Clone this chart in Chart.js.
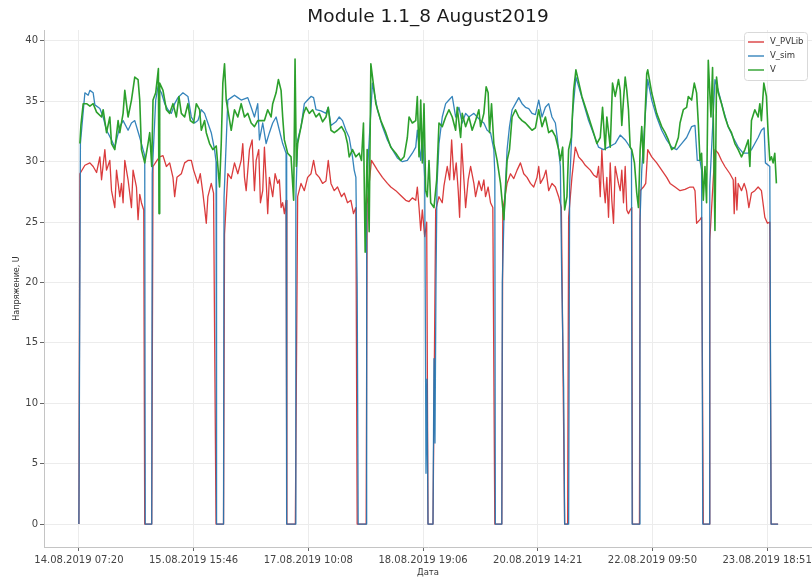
<!DOCTYPE html>
<html>
<head>
<meta charset="utf-8">
<script src="https://cdn.jsdelivr.net/npm/chart.js@4"></script>
<style>
  html, body { margin: 0; padding: 0; background: #ffffff; }
  #wrap { width: 812px; height: 578px; }
</style>
</head>
<body>
<div id="wrap"><canvas id="c" width="812" height="578"></canvas></div>
<script>
// Title and axis texts
const chartTitle = 'Module 1.1_8 August2019';
const xTitle = 'Дата';
const yTitle = 'Напряжение, U';

// Sample-index positions of the date ticks and their labels
const tickIndex = [0, 115, 230, 345, 460, 575, 690];
const tickLabels = ['14.08.2019 07:20', '15.08.2019 15:46', '17.08.2019 10:08',
  '18.08.2019 19:06', '20.08.2019 14:21', '22.08.2019 09:50', '23.08.2019 18:51'];
const yTicks = [0, 5, 10, 15, 20, 25, 30, 35, 40];

const seriesNames = ['V_PVLib', 'V_sim', 'V'];

// V_PVLib: [sample index, voltage]
const vPvlib = [
  [0,0],[1,29.0],[6,29.7],[11,29.9],[14.3,29.6],[17.7,29.1],[21,30.4],[22.7,28.5],[26,31.0],[27.7,29.3],[31,30.1],[32.7,27.6],[36,26.2],[37.7,29.3],[41,27.1],[42.7,28.2],[44.3,26.6],[46,30.1],[49.3,28.5],[52.7,26.2],[54.3,29.3],[57.7,27.9],[59.3,25.2],[61,27.3],[62.7,26.6],[65,26.0],[66,0],[73,0],
  [74.3,29.6],[78.3,30.1],[81,30.4],[84.3,30.5],[87.7,29.6],[91,29.9],[94.3,28.7],[96,27.1],[98.3,28.7],[102.7,29.0],[106,29.9],[109.3,30.1],[112.7,30.1],[115,29.3],[119.3,28.2],[121.7,29.0],[124.3,27.4],[126,26.2],[127.7,24.9],[129.3,27.1],[132.7,28.2],[135,27.4],[137.5,0],[145,0],
  [146,24.0],[149.3,29.0],[152.7,28.6],[156,29.9],[159.3,29.0],[162.7,30.1],[164.3,31.5],[166,28.7],[167.7,27.6],[171,31.0],[173.7,31.8],[176,27.6],[177.7,30.1],[180.3,31.0],[182,26.6],[184.3,27.6],[186,31.2],[187.7,28.5],[189.3,25.7],[191,28.7],[194.3,27.1],[196.7,29.0],[199.3,28.2],[201,28.5],[202.7,26.2],[204.3,26.6],[206,25.7],[207.7,26.8],[208.5,0],[217,0],
  [219.3,27.1],[222.7,28.2],[226,27.6],[229.3,28.7],[232.7,29.0],[235.3,30.1],[237.7,29.0],[241,28.7],[244.3,28.2],[247.7,28.4],[250,30.1],[252.7,28.2],[256,27.6],[259.3,27.9],[263.3,27.1],[266,27.4],[269.3,26.6],[272.7,26.8],[275.3,25.7],[277.7,26.2],[279,0],[288,0],
  [289,26.5],[293.3,30.1],[299.3,29.3],[304.3,28.7],[309.3,28.2],[312.7,27.9],[317.7,27.6],[322.7,27.2],[327.7,26.8],[331,26.7],[334.3,27.0],[337.7,26.8],[339.3,27.9],[341,26.2],[342.7,24.3],[344.3,26.0],[346.7,23.8],[348.7,25.0],[350,0],[355,0],
  [357.7,26.0],[361,27.1],[364.3,26.6],[366,28.0],[369.3,29.6],[371.7,28.5],[373.7,31.8],[376,28.5],[378.3,29.9],[380.3,27.6],[381.7,25.4],[383.7,31.5],[386,28.5],[387.7,26.2],[390.3,28.5],[392.7,29.6],[396,28.2],[397.7,27.1],[401,28.4],[403.7,27.6],[406,28.5],[407.7,27.1],[410.3,27.9],[412.7,26.6],[415,26.2],[417,0],[424,0],
  [425,26.0],[429.3,28.2],[432.7,29.0],[436,28.6],[439.3,29.3],[442.7,29.9],[446,29.0],[449.3,28.7],[452.7,28.2],[456,27.9],[459.3,28.7],[461,29.6],[462.7,28.2],[466,28.7],[468.3,29.3],[471,27.6],[474.3,28.2],[477.7,27.9],[481,27.1],[483.7,26.2],[487,0],[490,0],
  [491,25.4],[494.3,28.7],[497.7,31.2],[501,30.4],[504.3,30.1],[507.7,29.7],[512.7,29.3],[516,28.9],[519.3,28.7],[521,29.6],[522.7,27.1],[524.3,31.0],[526,28.2],[527.7,26.6],[529.3,28.7],[531,25.4],[532.7,29.9],[534.3,26.8],[536,24.9],[537.7,29.6],[541,28.2],[542.7,27.6],[544.3,29.3],[546,26.6],[547.7,29.6],[549.3,26.0],[551,25.7],[552.7,26.0],[554.3,26.2],[555,0],[562,0],
  [562.7,27.6],[566,27.9],[568.3,28.2],[570.3,31.0],[574.3,30.4],[579.3,29.9],[584.3,29.3],[589.3,28.7],[592.7,28.2],[597.7,27.9],[602.7,27.6],[607.7,27.7],[612.7,27.9],[616,27.9],[617.7,27.6],[619.3,24.9],[622.7,25.2],[624.3,25.4],[626,0],[632,0],
  [632.5,23.5],[637.7,31.0],[641,30.7],[644.3,30.1],[647.7,29.6],[652.7,29.0],[656,28.5],[657,25.7],[658.3,28.7],[659.7,26.0],[661,28.2],[662.7,27.9],[664.3,27.6],[667,28.2],[669.3,27.6],[671.7,26.2],[674.3,27.4],[677.7,27.6],[681,27.9],[684.3,27.6],[687.7,25.4],[690.3,24.9],[692.7,25.0],[694,0],[701,0]
];

// V_sim: [sample index, voltage]
const vSim = [
  [0,0],[1.5,31.5],[6,35.7],[9.3,35.5],[11,35.9],[14.3,35.7],[16,34.7],[21,34.4],[24.3,33.7],[27.7,32.6],[32.7,31.8],[36,31.2],[41,32.9],[44.3,33.4],[49.3,32.6],[52.7,33.2],[56,33.4],[61,32.0],[64.3,31.0],[66,30.5],[66.5,0],[73,0],
  [73.5,29.0],[77,35.1],[79.3,36.2],[82.7,35.7],[86,34.8],[89.3,34.3],[92.7,34.0],[96,34.8],[99.3,35.3],[104.3,35.7],[109.3,35.4],[112.7,33.7],[116,33.2],[119.3,33.4],[122.7,34.3],[126,34.0],[129.3,33.2],[132.7,32.4],[136,31.0],[137.5,30.0],[138,0],[145,0],
  [145.5,27.0],[149.3,35.1],[152.7,35.3],[156,35.5],[159.3,35.3],[162.7,35.1],[166,35.2],[169.3,35.3],[172.7,34.5],[176,33.7],[179.3,34.8],[181,31.8],[184.3,33.2],[187.7,31.5],[191,32.4],[194.3,33.2],[197.7,33.7],[201,32.6],[204.3,31.5],[207.7,30.7],[208.3,0],[217,0],
  [217.5,27.0],[219.3,31.8],[222.7,32.9],[226,34.8],[229.3,35.1],[232.7,35.4],[235.3,35.3],[237.7,34.3],[242.7,34.2],[247.7,34.0],[250,34.5],[252.7,33.0],[257.7,33.3],[261,33.7],[264.3,33.4],[267.7,32.6],[271,32.0],[274.3,30.4],[276,29.3],[277.7,28.7],[279,19.6],[280,0],[288,0],
  [288.5,28.0],[294.3,36.5],[299.3,34.3],[304.3,32.9],[309.3,31.8],[314.3,31.0],[319.3,30.3],[324.3,30.0],[329.3,30.1],[334.3,30.7],[337.7,31.2],[339.3,32.6],[342.7,30.1],[344.3,32.4],[346.7,28.7],[347.5,14.0],[348,4.2],[349,12.0],[350,0],[355,0],[356,13.7],[357,6.7],[358,20.0],[359,28.0],
  [361,31.5],[364.3,33.7],[367.7,34.8],[371,35.1],[374.3,35.4],[377.7,33.7],[381,34.5],[384.3,33.2],[387.7,34.0],[391,33.7],[396,34.0],[399.3,33.7],[402.7,33.4],[406,33.2],[409.3,32.6],[412.7,32.4],[416,31.0],[417,29.0],[417.5,0],[424,0],
  [424.5,20.0],[426,24.9],[427.7,28.2],[429.3,31.0],[431.7,32.9],[434.3,34.3],[437.7,34.8],[441,35.3],[444.3,34.8],[447.7,34.5],[451,34.4],[454.3,34.0],[457.7,33.9],[461,35.1],[464.3,33.7],[467.7,34.5],[471,34.8],[474.3,33.7],[477.7,33.2],[480.3,31.5],[482.7,29.6],[484,20.8],[486,11.3],[487,0],[491,0],
  [492,28.0],[495,34.0],[498.3,37.0],[504.3,35.3],[511,33.4],[516,32.3],[521,31.2],[526,31.0],[531,31.2],[537.7,31.5],[542.7,32.2],[547.7,31.8],[551,31.4],[554,31.0],[554.7,0],[562,0],
  [562.5,25.0],[564.3,29.3],[567.7,33.7],[570.3,36.8],[574.3,35.1],[579.3,33.7],[584.3,32.6],[589.3,31.8],[594.3,31.2],[599.3,31.0],[604.3,31.5],[609.3,32.0],[614.3,32.9],[617.7,33.0],[620,30.1],[622.7,30.1],[624.3,29.3],[625.5,0],[632,0],
  [632.5,28.0],[637.7,36.8],[641,35.9],[646,34.3],[651,32.9],[656,32.0],[661,31.2],[666,30.7],[671,30.7],[674.3,31.0],[677.7,31.5],[681,32.0],[684.3,32.6],[687,32.8],[688.3,29.9],[692.7,29.6],[694,0],[701,0]
];

// V (measured): [sample index, voltage]; no samples at night
const vMeas = [
  [1,31.5],[2,33.0],[4.3,34.8],[7.7,34.8],[11,34.6],[14.3,34.8],[17.7,34.1],[22.7,33.7],[24.3,34.3],[27.7,32.4],[31,33.7],[32.7,31.5],[36,31.0],[39.3,33.4],[41,32.4],[44.3,34.0],[46,35.9],[49.3,33.7],[52.7,35.1],[56,37.0],[59.3,36.8],[61,35.1],[62.7,31.0],[66,29.9],[69.3,31.5],[71,32.4],[73,29.6],
  [74.3,35.1],[77,35.7],[79.7,37.7],[80.3,25.7],[81,36.5],[84.3,35.9],[87.7,34.3],[91,34.0],[94.3,34.8],[97.7,33.7],[100.3,35.4],[102.7,34.0],[106,33.7],[109.3,34.8],[111.7,33.4],[115,33.2],[117.7,34.8],[121,34.3],[122.7,32.6],[126,33.4],[127.7,32.4],[131,31.5],[134.3,31.0],[137.7,31.3],[141,27.9],[142.7,31.5],[144.3,36.5],[146,38.1],
  [147.7,35.1],[149.3,34.3],[152.7,32.6],[156,34.3],[159.3,33.7],[162.7,34.8],[166,33.7],[169.3,34.0],[172.7,33.2],[176,32.9],[179.3,33.4],[186,33.4],[189.3,34.3],[192.7,33.7],[194.3,34.8],[197.7,35.7],[200,36.8],[202.7,35.9],[204.3,33.7],[206,31.8],[209.3,30.7],[212.7,30.4],[215.3,26.8],[216.7,38.5],[218,29.6],
  [219.3,31.5],[222.7,32.9],[225.3,34.0],[227.7,34.5],[231,34.0],[234.3,34.3],[237.7,33.7],[241,34.0],[244.3,33.3],[247.7,33.7],[250,34.5],[252.7,32.6],[256,32.4],[259.3,32.6],[263.3,32.9],[266.7,32.4],[269.3,31.5],[271,30.4],[274.3,31.0],[277.7,30.4],[281,30.7],[283.3,30.1],[285.3,33.2],[287,22.5],[289,31.0],[291,24.2],[292.7,38.1],
  [297.7,34.8],[302.7,33.4],[307.7,32.4],[312.7,31.2],[317.7,30.7],[322.7,30.1],[326,30.4],[329.3,32.0],[331,33.7],[334.3,33.2],[337.7,33.4],[339.3,35.4],[341,30.4],[342.7,35.1],[344.3,29.9],[346,34.8],[347.7,27.6],[349.3,27.1],[351,30.1],[352.7,26.6],[356,26.2],[358.7,28.5],[361,33.2],
  [364.3,32.9],[367.7,33.7],[371,34.3],[374.3,33.7],[377.7,32.6],[379.3,34.5],[382.7,32.0],[384.3,34.0],[387.7,32.9],[391,33.7],[394.3,32.6],[397.7,33.4],[401,34.3],[402.7,32.9],[406,34.0],[408.3,36.2],[410.3,35.7],[411.7,32.4],[413.7,34.8],[416,31.5],[419.3,30.1],[422.7,28.2],[426,25.2],[427.7,27.6],[429.3,30.1],[431.7,31.0],
  [434.3,33.7],[437.7,34.3],[441,33.7],[444.3,33.4],[447.7,33.2],[451,32.9],[454.3,32.6],[457.7,32.8],[461,34.3],[464.3,32.9],[467.7,33.7],[471,32.4],[474.3,32.6],[477.7,32.1],[481,31.0],[482.7,30.1],[485,31.2],[487,26.0],[489.3,27.1],[491,31.0],[493.7,32.0],[496,35.9],[498.3,37.6],
  [504.3,35.4],[511,33.7],[516,32.4],[519.3,31.5],[522.7,32.0],[525,34.5],[527.7,31.0],[529.3,33.7],[532.7,31.2],[535,36.5],[537.7,35.4],[541,36.8],[542.7,35.9],[544.3,33.0],[546,35.1],[547.7,37.0],[549.3,35.9],[551,34.3],[552.7,31.2],[554.3,31.0],[557,29.9],[559.3,27.4],[561,26.2],[562.7,31.0],[564.3,32.9],[566,29.9],[567.7,34.0],[569.3,37.3],
  [570.3,37.6],[574.3,35.7],[579.3,34.0],[584.3,32.9],[587.7,32.4],[591,31.8],[594.3,31.0],[597.7,31.2],[601,32.0],[602.7,33.2],[606,34.3],[609.3,34.5],[611,35.4],[614.3,35.1],[617,36.5],[619.3,35.7],[621,33.2],[622.7,30.1],[624.3,30.7],[626,26.8],[627.7,29.6],[629.3,26.6],[631,38.4],[633.7,33.7],[635.3,37.8],[637.7,24.3],[639.3,37.0],
  [641,35.7],[644.3,34.8],[647.7,33.7],[651,32.9],[654.3,32.4],[657.7,31.5],[661,31.0],[664.3,30.4],[667.7,31.0],[671,31.8],[672.7,29.6],[674.3,33.4],[677.7,34.3],[681,33.7],[682.7,34.8],[684.3,33.4],[686.7,36.5],[689.3,35.4],[691,32.4],[692.7,30.1],[694.3,30.4],[696,29.9],[697.7,30.7],[699.3,28.2]
];

const seriesColors = ['rgba(214,39,40,0.9)', 'rgba(31,119,180,0.9)', 'rgb(44,160,44)'];
const seriesWidths = [1.3, 1.3, 1.6];
const FONT = 'DejaVu Sans';

const toPoints = arr => arr.map(([x, y]) => ({ x, y }));

// Title centred over the plot area, and a boxed legend in the upper right corner
const decorations = {
  id: 'decorations',
  afterDraw(chart) {
    const { ctx, chartArea } = chart;
    ctx.save();
    ctx.fillStyle = '#1a1a1a';
    ctx.font = `18.5px "${FONT}"`;
    ctx.textAlign = 'center';
    ctx.textBaseline = 'middle';
    ctx.fillText(chartTitle, (chartArea.left + chartArea.right) / 2, 17);

    const bx = 744, by = 32, bw = 63, bh = 48;
    ctx.beginPath();
    ctx.roundRect(bx + 0.5, by + 0.5, bw, bh, 3);
    ctx.fillStyle = 'rgba(255,255,255,0.85)';
    ctx.fill();
    ctx.strokeStyle = '#d9d9d9';
    ctx.lineWidth = 1;
    ctx.stroke();
    ctx.font = `8.5px "${FONT}"`;
    ctx.textAlign = 'left';
    chart.data.datasets.forEach((ds, i) => {
      const y = by + 10 + i * 14;
      ctx.beginPath();
      ctx.moveTo(bx + 4, y);
      ctx.lineTo(bx + 20, y);
      ctx.strokeStyle = ds.borderColor;
      ctx.lineWidth = 1.4;
      ctx.stroke();
      ctx.fillStyle = '#333';
      ctx.fillText(ds.label, bx + 26, y);
    });
    ctx.restore();
  }
};

const lineStyle = { pointRadius: 0, pointHoverRadius: 0, tension: 0, fill: false, borderJoinStyle: 'round' };

new Chart(document.getElementById('c'), {
  type: 'line',
  data: {
    datasets: [
      { ...lineStyle, label: seriesNames[0], data: toPoints(vPvlib), borderColor: seriesColors[0], borderWidth: seriesWidths[0], order: 2 },
      { ...lineStyle, label: seriesNames[1], data: toPoints(vSim), borderColor: seriesColors[1], borderWidth: seriesWidths[1], order: 1 },
      { ...lineStyle, label: seriesNames[2], data: toPoints(vMeas), borderColor: seriesColors[2], borderWidth: seriesWidths[2], order: 0 }
    ]
  },
  options: {
    responsive: false,
    animation: false,
    devicePixelRatio: 1,
    layout: { padding: { top: 30, left: 0, right: 0, bottom: 0 } },
    plugins: { legend: { display: false }, tooltip: { enabled: false }, title: { display: false } },
    scales: {
      x: {
        type: 'linear',
        min: -35,
        max: 735,
        afterBuildTicks: s => { s.ticks = tickIndex.map(v => ({ value: v })); },
        afterFit: s => { s.height = 31; s.paddingLeft = 0; s.paddingRight = 0; },
        ticks: {
          autoSkip: false, maxRotation: 0, minRotation: 0, padding: 3,
          color: '#444', font: { family: FONT, size: 10 },
          callback: (v, i) => tickLabels[i]
        },
        grid: { color: '#ececec', lineWidth: 1, tickColor: '#666', tickLength: 4 },
        border: { display: true, color: '#c4c4c4' },
        title: { display: true, text: xTitle, color: '#333', font: { family: FONT, size: 8.5 }, padding: { top: 0, bottom: 0 } }
      },
      y: {
        min: -1.9,
        max: 40.9,
        afterBuildTicks: s => { s.ticks = yTicks.map(v => ({ value: v })); },
        afterFit: s => { s.width = 44; s.paddingTop = 0; s.paddingBottom = 0; },
        ticks: { padding: 2, color: '#444', font: { family: FONT, size: 10 }, callback: v => String(v) },
        grid: { color: '#ececec', lineWidth: 1, tickColor: '#666', tickLength: 4 },
        border: { display: true, color: '#c4c4c4' },
        title: { display: true, text: yTitle, color: '#333', font: { family: FONT, size: 8 }, padding: { top: 12, bottom: 0 } }
      }
    }
  },
  plugins: [decorations]
});
</script>
</body>
</html>
